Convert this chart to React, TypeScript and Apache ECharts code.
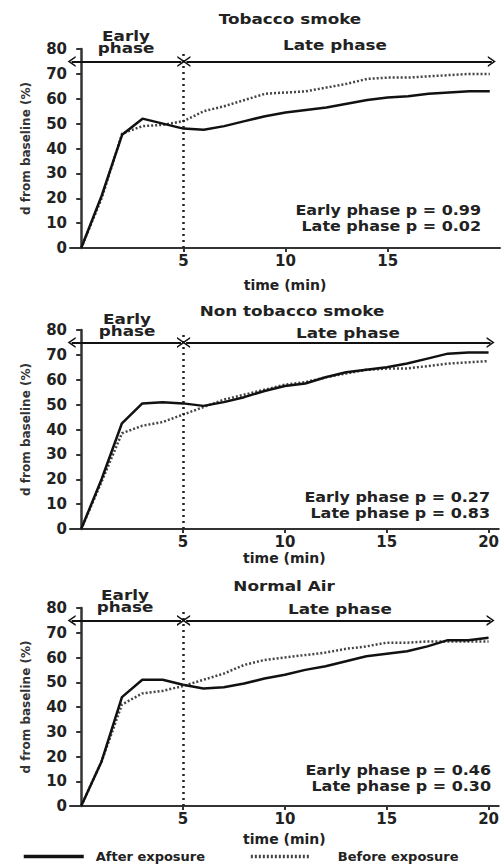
import React, { useEffect, useRef } from "react";
import * as echarts from "echarts";

const times = [0, 1, 2, 3, 4, 5, 6, 7, 8, 9, 10, 11, 12, 13, 14, 15, 16, 17, 18, 19, 20];

const panelTitles = ["Tobacco smoke", "Non tobacco smoke", "Normal Air"];

const tobaccoAfter = [0, 21, 45.5, 52, 50, 48, 47.5, 49, 51, 53, 54.5, 55.5, 56.5, 58, 59.5, 60.5, 61, 62, 62.5, 63, 63];
const tobaccoBefore = [0, 20, 46, 49, 49.5, 51, 55, 57, 59.5, 62, 62.5, 63, 64.5, 66, 68, 68.5, 68.5, 69, 69.5, 70, 70];

const nonTobaccoAfter = [0, 20, 42.5, 50.5, 51, 50.5, 49.5, 51, 53, 55.5, 57.5, 58.5, 61, 63, 64, 65, 66.5, 68.5, 70.5, 71, 71];
const nonTobaccoBefore = [0, 19, 38.5, 41.5, 43, 46, 49, 52, 54, 56, 58, 59, 61, 62.5, 64, 64.5, 64.5, 65.5, 66.5, 67, 67.5];

const airAfter = [0, 18, 44, 51, 51, 49, 47.5, 48, 49.5, 51.5, 53, 55, 56.5, 58.5, 60.5, 61.5, 62.5, 64.5, 67, 67, 68];
const airBefore = [0, 18, 41, 45.5, 46.5, 48.5, 51, 53.5, 57, 59, 60, 61, 62, 63.5, 64.5, 66, 66, 66.5, 66.5, 66.5, 66.5];

const earlyP = ["0.99", "0.27", "0.46"];
const lateP = ["0.02", "0.83", "0.30"];

const xTickLabels = [[5, 10, 15], [5, 10, 15, 20], [5, 10, 15, 20]];
const yTicks = { min: 0, max: 80, interval: 10 };

const FONT = "DejaVu Sans";
const chevron = "path://M0,10 L5,0 L10,10 L8.4,10 L5,3.2 L1.6,10 Z";

export default function App() {
  const ref = useRef<HTMLDivElement>(null);
  useEffect(() => {
    document.body.style.margin = "0";
    const chart = echarts.init(ref.current!, null, { renderer: "svg" });

    const gridTops = [49, 330, 608];
    const gridHeights = [199, 199, 198];
    const nameGaps = [30, 22, 26];
    const afterSets = [tobaccoAfter, nonTobaccoAfter, airAfter];
    const beforeSets = [tobaccoBefore, nonTobaccoBefore, airBefore];

    const grids = gridTops.map((t, i) => ({ left: 70, top: t, width: 430, height: gridHeights[i] }));

    const xAxes = grids.map((_, i) => ({
      type: "value",
      gridIndex: i,
      min: -0.55,
      max: 20.5,
      name: "time (min)",
      nameLocation: "middle",
      nameGap: nameGaps[i],
      nameTextStyle: { fontFamily: FONT, fontWeight: "bold", fontSize: 14, color: "#222" },
      axisLine: { lineStyle: { color: "#333", width: 2 } },
      axisTick: { show: true, length: 4, customValues: xTickLabels[i], lineStyle: { color: "#333", width: 2 } },
      axisLabel: {
        customValues: xTickLabels[i],
        fontFamily: FONT,
        fontWeight: "bold",
        fontSize: 15,
        color: "#222",
        margin: 5,
      },
      splitLine: { show: false },
    }));

    const yAxes = grids.map((_, i) => ({
      type: "value",
      gridIndex: i,
      min: yTicks.min,
      max: yTicks.max,
      interval: yTicks.interval,
      name: "d from baseline (%)",
      nameLocation: "middle",
      nameGap: 38,
      nameTextStyle: { fontFamily: FONT, fontWeight: "bold", fontSize: 12, color: "#333" },
      axisLine: { show: true, lineStyle: { color: "#333", width: 2.5 } },
      axisTick: { show: true, length: 5, lineStyle: { color: "#333", width: 2 } },
      axisLabel: { fontFamily: FONT, fontWeight: "bold", fontSize: 15, color: "#222", margin: 3 },
      splitLine: { show: false },
    }));

    const series: any[] = [];
    grids.forEach((_, i) => {
      series.push({
        type: "line",
        name: "After exposure",
        xAxisIndex: i,
        yAxisIndex: i,
        data: times.map((t, k) => [t, afterSets[i][k]]),
        symbol: "none",
        lineStyle: { color: "#111", width: 2.5, type: "solid" },
        itemStyle: { color: "#111" },
        z: 3,
        markLine: {
          silent: true,
          symbol: "none",
          label: { show: false },
          animation: false,
          data: [
            [
              { coord: [5, 0], symbol: "none", lineStyle: { type: [2, 4], color: "#222", width: 2.5 } },
              { coord: [5, 79], symbol: "none" },
            ],
            [
              { coord: [-0.47, 75], symbol: chevron, symbolSize: [11, 8], lineStyle: { type: "solid", color: "#111", width: 2 } },
              { coord: [4.9, 75], symbol: chevron, symbolSize: [11, 8] },
            ],
            [
              { coord: [5.15, 75], symbol: chevron, symbolSize: [11, 8], lineStyle: { type: "solid", color: "#111", width: 2 } },
              { coord: [20.1, 75], symbol: chevron, symbolSize: [11, 8] },
            ],
          ],
        },
      });
      series.push({
        type: "line",
        name: "Before exposure",
        xAxisIndex: i,
        yAxisIndex: i,
        data: times.map((t, k) => [t, beforeSets[i][k]]),
        symbol: "none",
        lineStyle: { color: "#444", width: 2.5, type: [2, 2] },
        itemStyle: { color: "#444" },
        z: 2,
      });
    });

    const txt = (x: number, y: number, text: string, size: number, sx: number, align = "center", lh?: number) => ({
      type: "text",
      x,
      y,
      scaleX: sx,
      style: {
        text,
        fontFamily: FONT,
        fontWeight: "bold",
        fontSize: size,
        lineHeight: lh,
        fill: "#222",
        align,
        verticalAlign: "middle",
      },
    });

    const titleY = [19, 311, 586];
    const titleX = [290, 292, 284];
    const earlyY = [42, 325, 601];
    const earlyX = [126, 127, 125];
    const lateX = [335, 348, 340];
    const lateY = [45, 333, 609];
    const pRight = [481, 490, 491];
    const pY = [210, 497, 770];

    const graphics: any[] = [];
    grids.forEach((_, i) => {
      graphics.push(txt(titleX[i], titleY[i], panelTitles[i], 14, 1.2));
      graphics.push(txt(earlyX[i], earlyY[i], "Early\nphase", 14, 1.2, "center", 12));
      graphics.push(txt(lateX[i], lateY[i], "Late phase", 14, 1.2));
      graphics.push(txt(pRight[i], pY[i], "Early phase p = " + earlyP[i], 14, 1.14, "right"));
      graphics.push(txt(pRight[i], pY[i] + 16, "Late phase p = " + lateP[i], 14, 1.14, "right"));
    });

    const legendText = { fontFamily: FONT, fontWeight: "bold", fontSize: 13, color: "#222" };

    chart.setOption({
      animation: false,
      backgroundColor: "#fff",
      grid: grids,
      xAxis: xAxes,
      yAxis: yAxes,
      series,
      graphic: graphics,
      legend: {
        data: [
          { name: "After exposure", textStyle: { ...legendText, padding: [0, 0, 0, 7] } },
          { name: "Before exposure", textStyle: { ...legendText, padding: [0, 0, 0, 22] } },
        ],
        left: 22,
        top: 850,
        padding: 0,
        itemWidth: 60,
        itemHeight: 10,
        itemGap: 44,
        itemStyle: { opacity: 0 },
        lineStyle: { width: 3.5 },
      },
    });
    return () => chart.dispose();
  }, []);
  return <div ref={ref} style={{ width: 502, height: 867 }} />;
}
